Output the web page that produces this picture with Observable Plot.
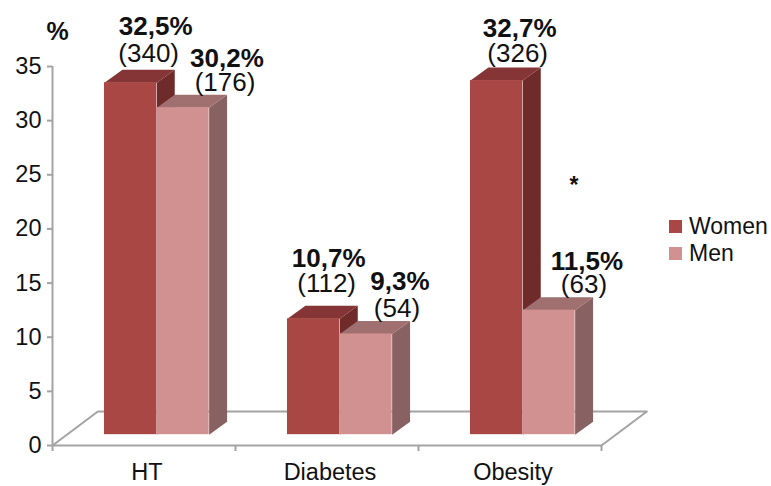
<!DOCTYPE html>
<html>
<head>
<meta charset="utf-8">
<script src="https://cdn.jsdelivr.net/npm/d3@7"></script>
<script src="https://cdn.jsdelivr.net/npm/@observablehq/plot@0.6"></script>
<style>
  html, body { margin: 0; background: #fff; }
  #chart { position: relative; width: 771px; height: 486px; font-family: "Liberation Sans", Arial, sans-serif; }
  #chart svg { display: block; }
  #legend { position: absolute; left: 669px; top: 213px; }
  #legend svg { margin-right: 7px !important; }
</style>
</head>
<body>
<div id="chart"></div>
<script>
const categories = ["HT", "Diabetes", "Obesity"];
const series = ["Women", "Men"];
const womenPct = [32.5, 10.7, 32.7];
const menPct = [30.2, 9.3, 11.5];
const womenN = [340, 112, 326];
const menN = [176, 54, 63];
const yTicks = [0, 5, 10, 15, 20, 25, 30, 35];

const frontColors = { Women: "#a84744", Men: "#d09190" };
const topColors = { Women: "#853535", Men: "#a06f6f" };
const sideColors = { Women: "#6f2b2a", Men: "#886262" };
const axisGray = "#a3a3a3";
const ink = "#111";

// Pseudo-3D geometry, in axis units: category slots are 1 wide.
const barOffset = 0.284, barWidth = 0.286, barLift = 1;
const barDepthX = 0.098, barDepthY = 1.2;
const floorDepthX = 0.248, floorDepthY = 3.14;

// Label nudges per bar, in pixels: [bold dx, bold dy, count dx, count dy].
const womenNudge = [[25, -56, 18, -29], [15, -60, 13, -35], [23, -52, 21, -27]];
const menNudge = [[44, -49, 42, -25], [34, -52, 31, -25], [38, -48, 35, -25]];

const rows = (name, pct, counts, nudges, slot) => categories.map((category, i) => {
  const x1 = i + barOffset + slot * barWidth;
  return { category, name, value: pct[i], count: counts[i], nudge: nudges[i], x1, x2: x1 + barWidth, top: pct[i] + barLift };
});
const women = rows("Women", womenPct, womenN, womenNudge, 0);
const men = rows("Men", menPct, menN, menNudge, 1);

// Top and side faces of each bar as closed polygons.
const faces = (bars) => bars.flatMap((b) => [
  ...[[b.x2, barLift], [b.x2 + barDepthX, barLift + barDepthY], [b.x2 + barDepthX, b.top + barDepthY], [b.x2, b.top]]
    .map(([x, y]) => ({ x, y, id: b.category + "-side", fill: sideColors[b.name] })),
  ...[[b.x1, b.top], [b.x1 + barDepthX, b.top + barDepthY], [b.x2 + barDepthX, b.top + barDepthY], [b.x2, b.top]]
    .map(([x, y]) => ({ x, y, id: b.category + "-top", fill: topColors[b.name] }))
]);

const barMarks = (bars) => [
  Plot.line(faces(bars), { x: "x", y: "y", z: "id", fill: "fill", stroke: null }),
  Plot.rect(bars, { x1: "x1", x2: "x2", y1: barLift, y2: "top", fill: (d) => frontColors[d.name] })
];

const labelMarks = (bars) => bars.flatMap((b) => {
  const anchor = [{ x: (b.x1 + b.x2) / 2, y: b.top }];
  const [bx, by, cx, cy] = b.nudge;
  return [
    Plot.text(anchor, { x: "x", y: "y", text: () => b.value.toFixed(1).replace(".", ",") + "%", dx: bx, dy: by, fontSize: 26, fontWeight: "bold", fill: ink }),
    Plot.text(anchor, { x: "x", y: "y", text: () => `(${b.count})`, dx: cx, dy: cy, fontSize: 26, fill: ink })
  ];
});

const floorEdge = [[0, 0], [floorDepthX, floorDepthY], [3 + floorDepthX, floorDepthY], [3, 0]];

const chart = Plot.plot({
  width: 771,
  height: 486,
  marginLeft: 52,
  marginRight: 170,
  marginTop: 66,
  marginBottom: 41,
  style: { fontFamily: "'Liberation Sans', Arial, sans-serif", background: "#fff", overflow: "visible" },
  x: { domain: [0, 3], axis: null },
  y: { domain: [0, 35], axis: null },
  marks: [
    Plot.line(floorEdge, { x: "0", y: "1", stroke: axisGray, strokeWidth: 2 }),
    Plot.axisY(yTicks, { tickSize: 5, tickPadding: 6, stroke: axisGray, strokeWidth: 2, fill: ink, fontSize: 23.5, label: null }),
    Plot.axisX([0, 1, 2, 3], { tickSize: 6, stroke: axisGray, strokeWidth: 2, tickFormat: () => "", label: null }),
    Plot.ruleX([0], { y1: 0, y2: 35, stroke: axisGray, strokeWidth: 2 }),
    Plot.ruleY([0], { x1: 0, x2: 3, stroke: axisGray, strokeWidth: 2 }),
    ...barMarks(women),
    ...barMarks(men),
    Plot.text(categories, { x: (d, i) => i + 0.5, y: 0, text: (d) => d, dx: 3, dy: 27, fontSize: 23.5, fill: ink }),
    Plot.text(["%"], { x: 0, y: 35, text: (d) => d, dx: 5, dy: -35, fontSize: 25, fontWeight: "bold", fill: ink }),
    Plot.text(["*"], { x: 2.85, y: 24.3, text: (d) => d, dy: 3, fontSize: 23, fontWeight: "bold", fill: ink }),
    ...labelMarks(women),
    ...labelMarks(men)
  ]
});

const legend = Plot.legend({
  color: { type: "ordinal", domain: series, range: series.map((s) => frontColors[s]) },
  swatchSize: 13,
  columns: 1,
  style: { fontFamily: "'Liberation Sans', Arial, sans-serif", fontSize: "23px", color: ink, lineHeight: "26px" }
});
legend.id = "legend";

document.getElementById("chart").append(chart, legend);
</script>
</body>
</html>
